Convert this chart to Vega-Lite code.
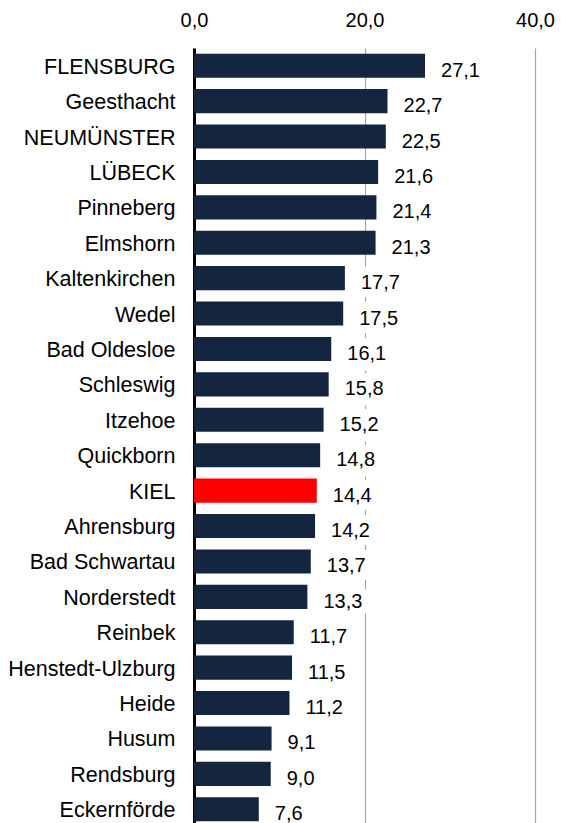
{
  "$schema": "https://vega.github.io/schema/vega-lite/v6.json",
  "autosize": {"type": "none"},
  "width": 341,
  "height": 779,
  "padding": {"left": 194, "top": 48, "right": 28, "bottom": 0},
  "background": "white",
  "config": {
    "view": {"stroke": null},
    "locale": {"number": {"decimal": ",", "thousands": ".", "grouping": [3], "currency": ["", " €"]}},
    "font": "Liberation Sans"
  },
  "data": {"values": [
    {"city": "FLENSBURG", "v": 27.1},
    {"city": "Geesthacht", "v": 22.7},
    {"city": "NEUMÜNSTER", "v": 22.5},
    {"city": "LÜBECK", "v": 21.6},
    {"city": "Pinneberg", "v": 21.4},
    {"city": "Elmshorn", "v": 21.3},
    {"city": "Kaltenkirchen", "v": 17.7},
    {"city": "Wedel", "v": 17.5},
    {"city": "Bad Oldesloe", "v": 16.1},
    {"city": "Schleswig", "v": 15.8},
    {"city": "Itzehoe", "v": 15.2},
    {"city": "Quickborn", "v": 14.8},
    {"city": "KIEL", "v": 14.4},
    {"city": "Ahrensburg", "v": 14.2},
    {"city": "Bad Schwartau", "v": 13.7},
    {"city": "Norderstedt", "v": 13.3},
    {"city": "Reinbek", "v": 11.7},
    {"city": "Henstedt-Ulzburg", "v": 11.5},
    {"city": "Heide", "v": 11.2},
    {"city": "Husum", "v": 9.1},
    {"city": "Rendsburg", "v": 9.0},
    {"city": "Eckernförde", "v": 7.6}
  ]},
  "encoding": {
    "y": {
      "field": "city", "type": "nominal", "sort": null,
      "scale": {"paddingInner": 0.32, "paddingOuter": 0.16},
      "axis": {"title": null, "domain": false, "ticks": false, "labelFontSize": 21.5, "labelColor": "black", "labelPadding": 19, "labelOffset": 2, "labelFont": "Liberation Sans", "labelBound": false, "labelOverlap": false}
    }
  },
  "layer": [
    {
      "mark": {"type": "bar"},
      "encoding": {
        "x": {
          "field": "v", "type": "quantitative",
          "scale": {"domain": [0, 40], "nice": false},
          "axis": {
            "title": null, "orient": "top", "values": [0, 20, 40], "format": ".1f",
            "domain": false, "ticks": false, "labelFontSize": 20, "labelColor": "black", "labelPadding": 18,
            "labelFont": "Liberation Sans", "labelOverlap": false, "labelBound": false, "labelFlush": false,
            "grid": true,
            "gridColor": {"condition": {"test": "datum.value === 0", "value": "black"}, "value": "#a6a6a6"},
            "gridWidth": {"condition": {"test": "datum.value === 0", "value": 3}, "value": 1.2}
          }
        },
        "color": {
          "condition": {"test": "datum.city === 'KIEL'", "value": "#ff0000"},
          "value": "#14253f"
        }
      }
    },
    {
      "mark": {"type": "text", "align": "left", "baseline": "middle", "dx": 16, "dy": 5, "fontSize": 20, "color": "white", "stroke": "white", "strokeWidth": 16, "strokeJoin": "miter", "font": "Liberation Sans"},
      "encoding": {
        "x": {"field": "v", "type": "quantitative"},
        "text": {"field": "v", "type": "quantitative", "format": ".1f"}
      }
    },
    {
      "mark": {"type": "text", "align": "left", "baseline": "middle", "dx": 16, "dy": 5, "fontSize": 20, "color": "black", "font": "Liberation Sans"},
      "encoding": {
        "x": {"field": "v", "type": "quantitative"},
        "text": {"field": "v", "type": "quantitative", "format": ".1f"}
      }
    }
  ]
}
